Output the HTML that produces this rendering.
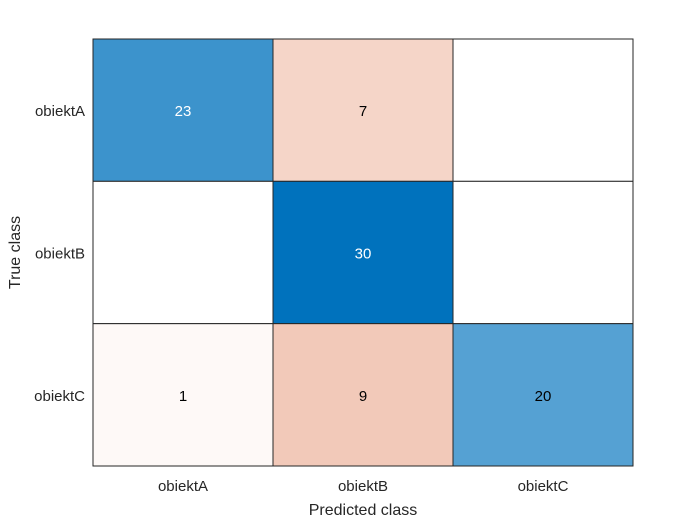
<!DOCTYPE html>
<html><head><meta charset="utf-8"><style>
body{margin:0;background:#fff;}
svg{display:block;font-family:"Liberation Sans",Arial,sans-serif;}
</style></head><body>
<svg id="chart" width="700" height="525">
<rect width="700" height="525" fill="#fff"/>
<g id="cells"></g>
<g id="labels"></g>
</svg>
<script>
const trueClasses=["obiektA","obiektB","obiektC"];
const predClasses=["obiektA","obiektB","obiektC"];
const row0=[23,7,0];
const row1=[0,30,0];
const row2=[1,9,20];
const matrix=[row0,row1,row2];
const X0=93,Y0=39,W=540,H=427;
const cw=W/predClasses.length, ch=H/trueClasses.length;
const NS="http://www.w3.org/2000/svg";
const cells=document.getElementById('cells');
const labels=document.getElementById('labels');
const maxV=Math.max(...matrix.flat());
function mk(tag,attrs,parent){const e=document.createElementNS(NS,tag);for(const k in attrs)e.setAttribute(k,attrs[k]);parent.appendChild(e);return e;}
function col(v,diag){const f=v/maxV;const t=diag?[0,114,189]:[210,75,20];
 return `rgb(${Math.round(255+(t[0]-255)*f)},${Math.round(255+(t[1]-255)*f)},${Math.round(255+(t[2]-255)*f)})`;}
matrix.forEach((row,i)=>row.forEach((v,j)=>{
 const r=mk('rect',{x:X0+j*cw,y:Y0+i*ch,width:cw,height:ch,fill:v?col(v,i===j):'#fff',stroke:'#262626','stroke-width':1},cells);
 
 
 if(v){const t=mk('text',{x:X0+j*cw+cw/2,y:Y0+i*ch+ch/2+6,'text-anchor':'middle','font-size':15,fill:(i===j&&v/maxV>0.7)?'#fff':'#000'},cells);
 t.textContent=v;
 
 }
}));
trueClasses.forEach((c,i)=>{const t=mk('text',{x:85,y:Y0+i*ch+ch/2+6,'text-anchor':'end','font-size':15,fill:'#262626'},labels);t.textContent=c;
 
 });
predClasses.forEach((c,j)=>{const t=mk('text',{x:X0+j*cw+cw/2,y:491,'text-anchor':'middle','font-size':15,fill:'#262626'},labels);t.textContent=c;
 
 });
let t=mk('text',{x:X0+W/2,y:515,'text-anchor':'middle','font-size':16,fill:'#262626'},labels);t.textContent='Predicted class';


t=mk('text',{x:0,y:0,transform:`translate(20,${Y0+H/2}) rotate(-90)`,'text-anchor':'middle','font-size':16,fill:'#262626'},labels);t.textContent='True class';


</script>
</body></html>
